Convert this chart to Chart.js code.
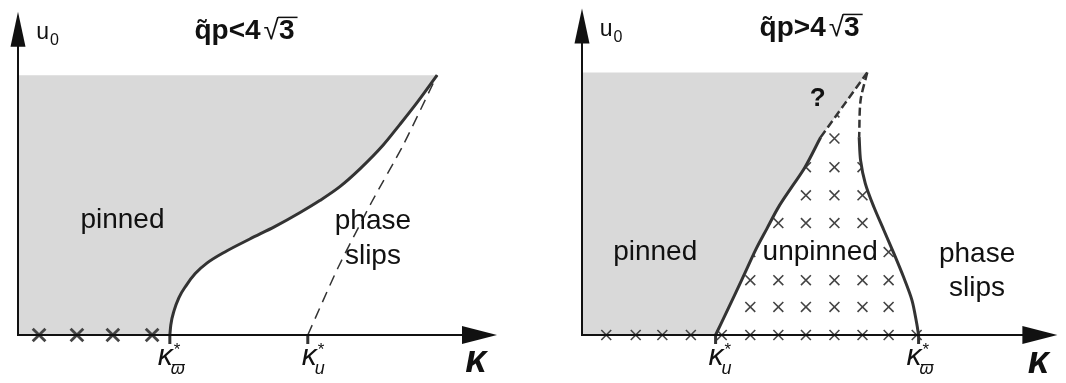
<!DOCTYPE html>
<html>
<head>
<meta charset="utf-8">
<script src="https://cdn.jsdelivr.net/npm/chart.js@4/dist/chart.umd.min.js"></script>
<style>
html,body{margin:0;padding:0;background:#fff;overflow:hidden}
#wrap{display:flex;width:1066px;height:383px}
canvas{display:block}
</style>
</head>
<body>
<div id="wrap">
<canvas id="left" width="533" height="383" style="width:533px;height:383px"></canvas>
<canvas id="right" width="533" height="383" style="width:533px;height:383px"></canvas>
</div>
<script>
// ---------- DATA (axis units: x = κ, y = u0, both 0..100 schematic units) ----------
// Left panel: q̃p < 4√3
const leftTitle = 'q̃p<4';
const leftTickValues = [31.7, 60.5];          // κ*_ϖ , κ*_u
const leftTickSubs = ['ϖ', 'u'];
const pinnedTopLeft = 80.4;
const leftCurveX = [31.7, 31.9, 32.6, 33.6, 35.1, 37.0, 39.5, 43.2, 48.4, 53.7, 58.9, 63.0, 67.2, 71.4, 76.2, 79.7, 83.3, 87.5];
const leftCurveY = [0, 3.1, 7.6, 11.6, 15.3, 19.0, 22.3, 25.7, 29.7, 33.6, 37.9, 41.6, 45.9, 51.4, 58.7, 65.1, 71.9, 80.4];
const leftDashX = [60.5, 66.8, 73.9, 80.4, 87.5];
const leftDashY = [0, 20.8, 41.3, 58.7, 80.4];
const leftCrossX = [4.4, 12.3, 19.8, 28.0];
const leftCrossY = [0, 0, 0, 0];

// Right panel: q̃p > 4√3
const rightTitle = 'q̃p>4';
const rightTickValues = [28.1, 70.8];         // κ*_u , κ*_ϖ
const rightTickSubs = ['u', 'ϖ'];
const pinnedTopRight = 80.4;
const rightLeftCurveX = [28.1, 30.2, 32.3, 34.4, 36.5, 38.9, 41.3, 44.1, 46.9, 50.2];
const rightLeftCurveY = [0, 6.4, 12.8, 19.4, 26.0, 32.6, 39.1, 45.3, 51.4, 60.6];
const rightLeftDashX = [50.2, 55.1, 60.0];
const rightLeftDashY = [60.6, 70.5, 80.4];
const rightRightDashX = [60.0, 58.6, 58.3];
const rightRightDashY = [80.4, 71.9, 60.6];
const rightRightCurveX = [58.3, 58.6, 59.6, 61.4, 63.5, 65.6, 67.6, 69.4, 70.4, 70.8];
const rightRightCurveY = [60.6, 53.5, 46.4, 39.2, 32.1, 25.0, 17.9, 10.7, 3.6, 0];
const rightAxisCrossX = [5.1, 11.3, 16.9, 22.9, 29.4, 35.4, 41.3, 47.1, 53.1, 59.0, 64.5, 70.4];
const rightAxisCrossY = [0, 0, 0, 0, 0, 0, 0, 0, 0, 0, 0, 0];
const rightGridCrossX = [35.4, 41.3, 47.1, 53.1, 59.0, 64.5,
                         35.4, 41.3, 47.1, 53.1, 59.0, 64.5,
                         35.4, 64.5,
                         41.3, 47.1, 53.1, 59.0,
                         41.3, 47.1, 53.1, 59.0,
                         47.1, 53.1, 59.0,
                         53.1,
                         53.1];
const rightGridCrossY = [8.6, 8.6, 8.6, 8.6, 8.6, 8.6,
                         16.8, 16.8, 16.8, 16.8, 16.8, 16.8,
                         25.4, 25.4,
                         34.3, 34.3, 34.3, 34.3,
                         42.8, 42.8, 42.8, 42.8,
                         51.4, 51.4, 51.4,
                         60.2,
                         68.2];

// ---------- helpers ----------
const FONT = '"Liberation Sans", Arial, "DejaVu Sans", sans-serif';
const pts = (xs, ys) => xs.map((x, i) => ({x: x, y: ys[i]}));

function curveDS(xs, ys, opts) {
  return Object.assign({
    data: pts(xs, ys), borderColor: '#333', borderWidth: 3, pointRadius: 0,
    tension: 0.3, fill: false, clip: false, order: 1
  }, opts || {});
}
function shapeDS(points, color, order) {
  return {data: points, borderColor: 'rgba(0,0,0,0)', borderWidth: 0, pointRadius: 0,
          backgroundColor: color, fill: 'shape', tension: 0, order: order};
}
function crossDS(xs, ys, r, w, order) {
  return {data: pts(xs, ys), showLine: false, pointStyle: 'crossRot', pointRadius: r,
          pointBorderColor: '#444', pointBorderWidth: w, pointBackgroundColor: 'rgba(0,0,0,0)',
          clip: false, order: order};
}

function drawKappaLabel(ctx, xLeft, by, sub) {
  ctx.textAlign = 'left'; ctx.textBaseline = 'alphabetic';
  ctx.font = 'italic 30px ' + FONT;
  ctx.fillText('κ', xLeft, by);
  const w = ctx.measureText('κ').width;
  ctx.font = '17px ' + FONT;
  ctx.fillText('*', xLeft + w + 1, by - 10);
  ctx.font = 'italic 18px ' + FONT;
  ctx.fillText(sub, xLeft + w - 2, by + 9);
}

function drawTitle(ctx, cx, by, main, radicand) {
  const fb = 'bold 28px ' + FONT, fr = '28px ' + FONT;
  ctx.textAlign = 'left'; ctx.textBaseline = 'alphabetic';
  ctx.font = fb; const w1 = ctx.measureText(main).width; const w3 = ctx.measureText(radicand).width;
  ctx.font = fr; const mr = ctx.measureText('√'); const wr = mr.width;
  const total = w1 + 3 + wr + w3 + 3;
  const x0 = cx - total / 2;
  ctx.font = fb; ctx.fillText(main, x0, by);
  const x1 = x0 + w1 + 3;
  ctx.font = fr; ctx.fillText('√', x1, by);
  const top = by - mr.actualBoundingBoxAscent;
  ctx.font = fb; ctx.fillText(radicand, x1 + wr, by);
  ctx.lineWidth = 1.5;
  ctx.beginPath(); ctx.moveTo(x1 + wr - 1, top + 0.75); ctx.lineTo(x1 + wr + w3 + 3, top + 0.75); ctx.stroke();
}

function schematicPlugin(cfg) {
  return {
    id: 'schematic',
    afterDatasetsDraw(chart) {
      const {ctx, chartArea: a, scales} = chart;
      const X = v => scales.x.getPixelForValue(v), Y = v => scales.y.getPixelForValue(v);
      ctx.save();
      // ticks at κ* positions
      ctx.strokeStyle = '#333'; ctx.lineWidth = 3;
      cfg.ticks.forEach(t => {
        ctx.beginPath(); ctx.moveTo(X(t), a.bottom); ctx.lineTo(X(t), a.bottom + 9); ctx.stroke();
      });
      // axes with arrows
      ctx.strokeStyle = '#111'; ctx.fillStyle = '#111'; ctx.lineWidth = 2;
      ctx.beginPath();
      ctx.moveTo(a.left, a.bottom); ctx.lineTo(a.left, a.top + 30);
      ctx.moveTo(a.left - 1, a.bottom); ctx.lineTo(a.right - 30, a.bottom);
      ctx.stroke();
      ctx.beginPath(); ctx.moveTo(a.left, a.top); ctx.lineTo(a.left - 7.5, a.top + 35); ctx.lineTo(a.left + 7.5, a.top + 35); ctx.closePath(); ctx.fill();
      ctx.beginPath(); ctx.moveTo(a.right, a.bottom); ctx.lineTo(a.right - 35, a.bottom - 9); ctx.lineTo(a.right - 35, a.bottom + 9); ctx.closePath(); ctx.fill();
      // axis labels
      ctx.textBaseline = 'alphabetic'; ctx.textAlign = 'left';
      ctx.font = '23px ' + FONT;
      ctx.fillText('u', X(cfg.u0.x), Y(cfg.u0.y));
      const uw = ctx.measureText('u').width;
      ctx.font = '16px ' + FONT;
      ctx.fillText('0', X(cfg.u0.x) + uw + 1, Y(cfg.u0.y) + 6);
      ctx.textAlign = 'center';
      ctx.font = 'bold italic 38px ' + FONT;
      ctx.fillText('κ', X(cfg.kappa.x), Y(cfg.kappa.y));
      // κ* labels
      cfg.ticks.forEach((t, i) => drawKappaLabel(ctx, X(t) + cfg.kOffsets[i], Y(cfg.kLabelY), cfg.subs[i]));
      // region labels
      cfg.texts.forEach(tx => {
        ctx.font = tx.font; ctx.textAlign = 'center'; ctx.textBaseline = 'alphabetic';
        ctx.fillText(tx.text, X(tx.x), Y(tx.y));
      });
      // title
      drawTitle(ctx, X(cfg.title.x), Y(cfg.title.y), cfg.title.text, '3');
      ctx.restore();
    }
  };
}

function makeChart(id, datasets, padding, cfg) {
  return new Chart(document.getElementById(id), {
    type: 'line',
    data: {datasets: datasets},
    options: {
      responsive: false, animation: false, events: [], devicePixelRatio: 1,
      layout: {padding: padding},
      plugins: {legend: {display: false}, tooltip: {enabled: false}, title: {display: false}},
      scales: {
        x: {type: 'linear', min: 0, max: 100, display: false},
        y: {type: 'linear', min: 0, max: 100, display: false}
      }
    },
    plugins: [schematicPlugin(cfg)]
  });
}

// ---------- LEFT ----------
const leftFill = [{x: 0, y: 0}].concat(pts(leftCurveX, leftCurveY), [{x: 0, y: pinnedTopLeft}]);
makeChart('left', [
  shapeDS(leftFill, '#d9d9d9', 10),
  crossDS(leftCrossX, leftCrossY, 9, 2.8, 3),
  curveDS(leftDashX, leftDashY, {borderWidth: 1.5, borderDash: [11, 7], tension: 0.2, order: 2}),
  curveDS(leftCurveX, leftCurveY, {order: 1, cubicInterpolationMode: 'monotone'})
], {left: 18, right: 36, top: 8, bottom: 48}, {
  ticks: leftTickValues, subs: leftTickSubs, kOffsets: [-12, -6], kLabelY: -9.2,
  u0: {x: 3.8, y: 91.7}, kappa: {x: 95.6, y: -11.6},
  title: {text: leftTitle, x: 47.6, y: 91.7},
  texts: [
    {text: 'pinned', x: 21.8, y: 33.1, font: '28px ' + FONT},
    {text: 'phase', x: 74.1, y: 32.7, font: '28px ' + FONT},
    {text: 'slips', x: 74.1, y: 22.0, font: '28px ' + FONT}
  ]
});

// ---------- RIGHT ----------
const rightFill = [{x: 0, y: 0}].concat(pts(rightLeftCurveX, rightLeftCurveY), pts(rightLeftDashX, rightLeftDashY).slice(1), [{x: 0, y: pinnedTopRight}]);
const rightMask = pts(rightRightDashX, rightRightDashY).concat(pts(rightRightCurveX, rightRightCurveY).slice(1), [{x: 100, y: 0}, {x: 100, y: pinnedTopRight}]);
makeChart('right', [
  crossDS(rightGridCrossX, rightGridCrossY, 7, 1.6, 12),
  shapeDS(rightFill, '#d9d9d9', 10),
  shapeDS(rightMask, '#ffffff', 9),
  crossDS(rightAxisCrossX, rightAxisCrossY, 7, 1.6, 3),
  curveDS(rightLeftDashX, rightLeftDashY, {borderWidth: 2.5, borderDash: [8, 4], tension: 0, order: 2}),
  curveDS(rightRightDashX, rightRightDashY, {borderWidth: 2.5, borderDash: [8, 4], tension: 0.3, order: 2}),
  curveDS(rightLeftCurveX, rightLeftCurveY, {order: 1, cubicInterpolationMode: 'monotone'}),
  curveDS(rightRightCurveX, rightRightCurveY, {order: 1})
], {left: 49, right: 4, top: 8, bottom: 48}, {
  ticks: rightTickValues, subs: rightTickSubs, kOffsets: [-7, -12], kLabelY: -9.2,
  u0: {x: 3.75, y: 91.7}, kappa: {x: 96.0, y: -11.6},
  title: {text: rightTitle, x: 48.2, y: 91.7},
  texts: [
    {text: 'pinned', x: 15.4, y: 22.9, font: '28px ' + FONT},
    {text: 'unpinned', x: 50.1, y: 22.9, font: '28px ' + FONT},
    {text: 'phase', x: 83.1, y: 22.3, font: '28px ' + FONT},
    {text: 'slips', x: 83.1, y: 11.9, font: '28px ' + FONT},
    {text: '?', x: 49.6, y: 70.3, font: 'bold 26px ' + FONT}
  ]
});
</script>
</body>
</html>
